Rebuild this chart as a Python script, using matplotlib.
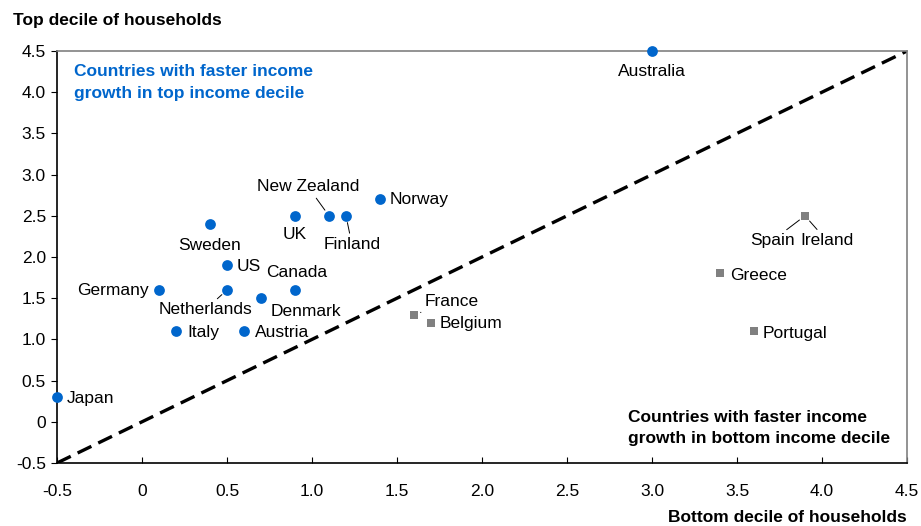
import numpy as np
import matplotlib.pyplot as plt

plt.rcParams['font.family'] = ['Liberation Sans', 'DejaVu Sans']
plt.rcParams['lines.scale_dashes'] = False

# ===== DATOS =====
paises_top = ["Australia", "Norway", "New Zealand", "Finland", "UK", "Sweden", "US",
              "Canada", "Germany", "Netherlands", "Denmark", "Italy", "Austria", "Japan"]
x_top = [3.0, 1.4, 1.1, 1.2, 0.9, 0.4, 0.5, 0.9, 0.1, 0.5, 0.7, 0.2, 0.6, -0.5]
y_top = [4.5, 2.7, 2.5, 2.5, 2.5, 2.4, 1.9, 1.6, 1.6, 1.6, 1.5, 1.1, 1.1, 0.3]

paises_bot = ["France", "Belgium", "Greece", "Portugal", "Spain", "Ireland"]
x_bot = [1.6, 1.7, 3.4, 3.6, 3.9, 3.9]
y_bot = [1.3, 1.2, 1.8, 1.1, 2.5, 2.5]

ticks = [-0.5, 0, 0.5, 1.0, 1.5, 2.0, 2.5, 3.0, 3.5, 4.0, 4.5]
tick_labels = ["-0.5", "0", "0.5", "1.0", "1.5", "2.0", "2.5", "3.0", "3.5", "4.0", "4.5"]

# offsets de etiquetas en pixeles (dx, dy hacia arriba), alineacion, linea guia
offsets = {
    "Australia": (0, -20, "center", False),
    "Norway": (10, 0, "left", False),
    "New Zealand": (-21, 29, "center", True),
    "Finland": (6, -29, "center", True),
    "UK": (0, -19, "center", False),
    "Sweden": (0, -21, "center", False),
    "US": (10, -1, "left", False),
    "Canada": (2, 17, "center", False),
    "Germany": (-10, -1, "right", False),
    "Netherlands": (-22, -20, "center", True),
    "Denmark": (45, -13, "center", False),
    "Italy": (11, -1, "left", False),
    "Austria": (11, -1, "left", False),
    "Japan": (10, -1, "left", False),
    "France": (11, 13, "left", True),
    "Belgium": (9, -1, "left", False),
    "Greece": (10, -2, "left", False),
    "Portugal": (9, -2, "left", False),
    "Spain": (-33, -25, "center", True),
    "Ireland": (22, -25, "center", True),
}

azul = "#0066CC"
gris = "#808080"
fs = 12.5

# ===== FIGURA =====
dpi = 100
fig = plt.figure(figsize=(9.21, 5.26), dpi=dpi)
ax = fig.add_axes([57/921, 1 - 463/526, 850/921, 412/526])

ax.plot([-0.5, 4.5], [-0.5, 4.5], color="black", lw=2.4, dashes=(11, 5.5), zorder=1)

ax.scatter(x_top, y_top, s=60, color=azul, marker="o", zorder=3, clip_on=False, linewidths=0)
ax.scatter(x_bot, y_bot, s=38, color=gris, marker="s", zorder=3, clip_on=False, linewidths=0)

px2pt = 72 / dpi
for nombres, xs, ys in [(paises_top, x_top, y_top), (paises_bot, x_bot, y_bot)]:
    for nombre, xv, yv in zip(nombres, xs, ys):
        dx, dy, ha, guia = offsets[nombre]
        props = None
        if guia:
            props = dict(arrowstyle="-", color="black", lw=0.7, shrinkA=1, shrinkB=5)
        ax.annotate(nombre, (xv, yv), xytext=(dx * px2pt, dy * px2pt),
                    textcoords="offset points", ha=ha, va="center",
                    fontsize=fs, color="black", arrowprops=props, zorder=4)

ax.text(74/921, 1 - 64/526, "Countries with faster income\ngrowth in top income decile",
        transform=fig.transFigure, color=azul, fontsize=fs, fontweight="bold",
        ha="left", va="top", linespacing=1.55)
ax.text(628/921, 1 - 446/526, "Countries with faster income\ngrowth in bottom income decile",
        transform=fig.transFigure, color="black", fontsize=fs, fontweight="bold",
        ha="left", va="bottom", linespacing=1.5)

fig.text(13/921, 1 - 20/526, "Top decile of households", fontsize=fs, fontweight="bold",
         ha="left", va="center")
fig.text(907/921, 1 - 517/526, "Bottom decile of households", fontsize=fs, fontweight="bold",
         ha="right", va="center")

ax.set_xlim(-0.5, 4.5)
ax.set_ylim(-0.5, 4.5)
ax.set_xticks(ticks)
ax.set_xticklabels(tick_labels)
ax.set_yticks(ticks)
ax.set_yticklabels(tick_labels)
ax.tick_params(axis="x", direction="in", length=4, labelsize=fs, pad=15)
ax.tick_params(axis="y", direction="out", length=4, labelsize=fs, pad=4)

ax.spines["left"].set_color("black")
ax.spines["bottom"].set_color("black")
ax.spines["top"].set_color("#808080")
ax.spines["right"].set_color("#808080")
for s in ax.spines.values():
    s.set_linewidth(1.2)

fig.savefig("out.png", dpi=dpi)
